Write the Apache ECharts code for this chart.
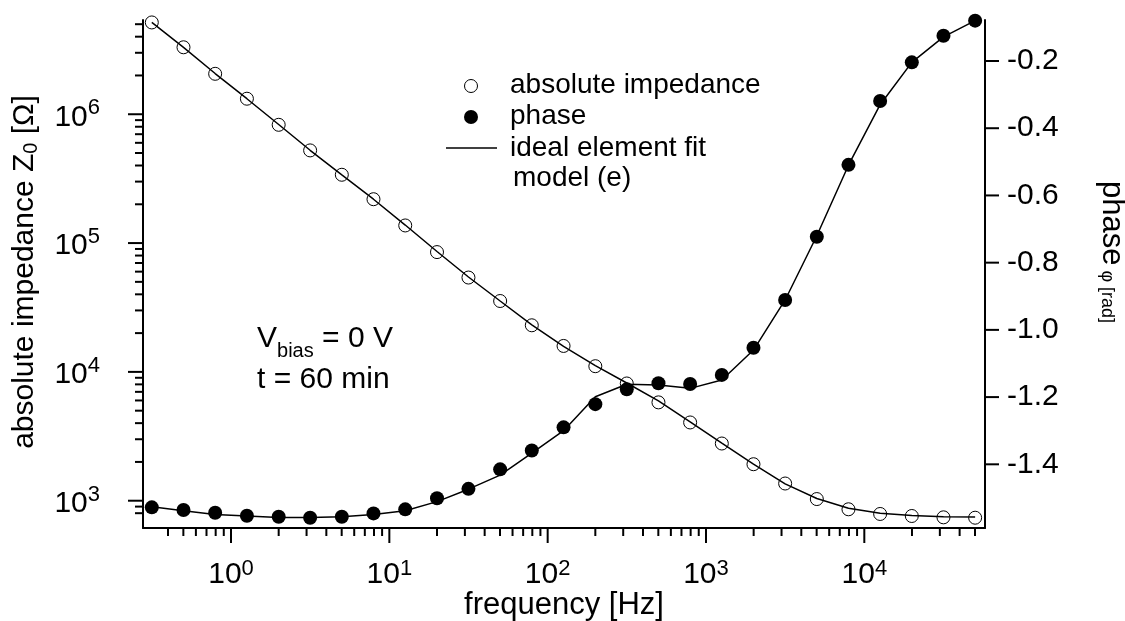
<!DOCTYPE html>
<html>
<head>
<meta charset="utf-8">
<script src="https://cdn.jsdelivr.net/npm/echarts@6/dist/echarts.min.js"></script>
<style>
  html, body { margin: 0; padding: 0; background: #fff; }
  #chart { width: 1125px; height: 621px; }
</style>
</head>
<body>
<div id="chart"></div>
<script>
// Impedance spectrum: measured |Z| and phase, with the ideal element fit
const frequency = [0.316, 0.501, 0.794, 1.26, 2.00, 3.16, 5.01, 7.94, 12.6, 20.0, 31.6, 50.1, 79.4,
  126, 200, 316, 501, 794, 1259, 1995, 3162, 5012, 7943, 12589, 19953, 31623, 50119];
const impedance = [5.16e6, 3.31e6, 2.06e6, 1.32e6, 8.28e5, 5.24e5, 3.39e5, 2.19e5, 1.37e5, 8.51e4,
  5.40e4, 3.55e4, 2.30e4, 1.59e4, 1.107e4, 8130, 5800, 4050, 2780, 1920, 1360, 1030, 858, 789, 761, 743, 738];
const impedanceFit = [5.16e6, 3.30e6, 2.07e6, 1.32e6, 8.32e5, 5.25e5, 3.38e5, 2.19e5, 1.38e5, 8.60e4,
  5.45e4, 3.55e4, 2.32e4, 1.58e4, 1.12e4, 8200, 5950, 4100, 2800, 1920, 1350, 1040, 875, 800, 768, 752, 746];
const phase = [-1.528, -1.536, -1.544, -1.553, -1.556, -1.559, -1.556, -1.546, -1.534, -1.501, -1.473,
  -1.415, -1.359, -1.290, -1.221, -1.177, -1.159, -1.161, -1.134, -1.053, -0.911, -0.723, -0.509,
  -0.319, -0.204, -0.125, -0.080];
const phaseFit = [-1.526, -1.538, -1.549, -1.554, -1.558, -1.558, -1.556, -1.549, -1.538, -1.511, -1.474,
  -1.432, -1.367, -1.300, -1.199, -1.162, -1.164, -1.174, -1.149, -1.060, -0.911, -0.720, -0.510,
  -0.330, -0.204, -0.128, -0.080];

// Axis ranges and tick positions
const freqRange = [0.278, 57850];
const impedanceRange = [614, 5.39e6];
const phaseRange = [-1.5895, -0.078];
const freqMajorTicks = [1, 10, 100, 1000, 10000];
const impedanceMajorTicks = [1e3, 1e4, 1e5, 1e6];
const phaseTicks = [-1.4, -1.2, -1.0, -0.8, -0.6, -0.4, -0.2];

function logMinorTicks(fromExp, toExp, lo, hi) {
  const out = [];
  for (let e = fromExp; e <= toExp; e++) {
    for (let m = 2; m <= 9; m++) {
      const v = m * Math.pow(10, e);
      if (v > lo && v < hi) out.push(v);
    }
  }
  return out;
}
const freqMinorTicks = logMinorTicks(-1, 4, 0.35, freqRange[1]);
const impedanceMinorTicks = logMinorTicks(2, 6, 750, impedanceRange[1]);

const FONT = '"Liberation Sans", Arial, Helvetica, sans-serif';
const MAJOR = 15, MINOR = 8;

function powerLabel(v) {
  const e = Math.log10(v);
  const r = Math.round(e);
  return Math.abs(e - r) < 1e-6 ? '{b|10}{s|' + r + '}' : '';
}
const powerRichX = {
  b: { fontSize: 30, lineHeight: 34, fontFamily: FONT, color: '#000' },
  s: { fontSize: 22, fontFamily: FONT, color: '#000', verticalAlign: 'top' }
};
const powerRichY = {
  b: { fontSize: 30, lineHeight: 34, fontFamily: FONT, color: '#000', padding: [6, 0, 0, 0] },
  s: { fontSize: 22, fontFamily: FONT, color: '#000', verticalAlign: 'top' }
};

// Tick marks drawn through the axis scales
function tickSeries(kind, values, lengths, yAxisIndex) {
  return {
    type: 'custom',
    xAxisIndex: 0,
    yAxisIndex: yAxisIndex,
    silent: true,
    clip: false,
    z: 5,
    data: values.map((v, i) => kind === 'x' ? [v, 1000, lengths[i]] : [1, v, lengths[i]]),
    renderItem(params, api) {
      const cs = params.coordSys;
      const p = api.coord([api.value(0), api.value(1)]);
      const len = api.value(2);
      let shape;
      if (kind === 'x') {
        const y0 = cs.y + cs.height;
        shape = { x1: p[0], y1: y0, x2: p[0], y2: y0 + len };
      } else if (kind === 'left') {
        shape = { x1: cs.x, y1: p[1], x2: cs.x - len, y2: p[1] };
      } else {
        const x0 = cs.x + cs.width;
        shape = { x1: x0, y1: p[1], x2: x0 + len, y2: p[1] };
      }
      return { type: 'line', shape: shape, style: { stroke: '#000', lineWidth: 2 } };
    }
  };
}

const xTickValues = freqMajorTicks.concat(freqMinorTicks);
const xTickLens = freqMajorTicks.map(() => MAJOR).concat(freqMinorTicks.map(() => MINOR));
const yTickValues = impedanceMajorTicks.concat(impedanceMinorTicks);
const yTickLens = impedanceMajorTicks.map(() => MAJOR).concat(impedanceMinorTicks.map(() => MINOR));

const axisLineStyle = { show: true, onZero: false, lineStyle: { color: '#000', width: 2 } };

const chart = echarts.init(document.getElementById('chart'), null, { renderer: 'canvas' });
chart.setOption({
  animation: false,
  backgroundColor: '#fff',
  grid: { left: 143, right: 140, top: 20, bottom: 93, containLabel: false, outerBoundsMode: 'none' },
  xAxis: {
    type: 'log', logBase: 10, min: freqRange[0], max: freqRange[1], splitNumber: 5,
    axisLine: axisLineStyle,
    axisTick: { show: false },
    splitLine: { show: false },
    axisLabel: { margin: 30, formatter: powerLabel, rich: powerRichX, showMinLabel: false, showMaxLabel: false },
    name: 'frequency [Hz]', nameLocation: 'middle', nameGap: 62, nameMoveOverlap: false,
    nameTextStyle: { fontSize: 31, fontFamily: FONT, color: '#000' }
  },
  yAxis: [
    {
      type: 'log', logBase: 10, min: impedanceRange[0], max: impedanceRange[1], splitNumber: 5,
      axisLine: axisLineStyle,
      axisTick: { show: false },
      splitLine: { show: false },
      axisLabel: { margin: 43, formatter: powerLabel, rich: powerRichY, showMinLabel: false, showMaxLabel: false }
    },
    {
      type: 'value', position: 'right', min: phaseRange[0], max: phaseRange[1], splitNumber: 7,
      axisLine: axisLineStyle,
      axisTick: { show: false },
      splitLine: { show: false },
      axisLabel: {
        margin: 22, fontSize: 30, fontFamily: FONT, color: '#000',
        showMinLabel: false, showMaxLabel: false,
        formatter: v => Math.abs(v * 5 - Math.round(v * 5)) < 1e-6 ? v.toFixed(1) : ''
      }
    }
  ],
  series: [
    {
      name: 'impedance fit', type: 'line', xAxisIndex: 0, yAxisIndex: 0,
      data: frequency.map((f, i) => [f, impedanceFit[i]]),
      showSymbol: false, symbol: 'none', silent: true, z: 2,
      lineStyle: { color: '#000', width: 1.5 }
    },
    {
      name: 'phase fit', type: 'line', xAxisIndex: 0, yAxisIndex: 1,
      data: frequency.map((f, i) => [f, phaseFit[i]]),
      showSymbol: false, symbol: 'none', silent: true, z: 2,
      lineStyle: { color: '#000', width: 1.5 }
    },
    {
      name: 'absolute impedance', type: 'scatter', xAxisIndex: 0, yAxisIndex: 0,
      data: frequency.map((f, i) => [f, impedance[i]]),
      symbol: 'circle', symbolSize: 13, z: 3,
      itemStyle: { color: 'rgba(0,0,0,0)', borderColor: '#000', borderWidth: 1, opacity: 1 }
    },
    {
      name: 'phase', type: 'scatter', xAxisIndex: 0, yAxisIndex: 1,
      data: frequency.map((f, i) => [f, phase[i]]),
      symbol: 'circle', symbolSize: 14, z: 3,
      itemStyle: { color: '#000', opacity: 1 }
    },
    tickSeries('x', xTickValues, xTickLens, 0),
    tickSeries('left', yTickValues, yTickLens, 0),
    tickSeries('right', phaseTicks, phaseTicks.map(() => 14), 1)
  ],
  graphic: [
    // axis titles
    {
      type: 'text', x: 25, y: 272, rotation: Math.PI / 2,
      style: {
        text: '{t|absolute impedance Z}{u|0}{t| [Ω]}',
        align: 'center', verticalAlign: 'middle',
        rich: {
          t: { fontSize: 30, fontFamily: FONT, fill: '#000' },
          u: { fontSize: 20, fontFamily: FONT, fill: '#000', padding: [12, 0, 0, 0] }
        }
      }
    },
    {
      type: 'text', x: 1112, y: 252, rotation: -Math.PI / 2,
      style: {
        text: '{t|phase}{u| φ [rad]}',
        align: 'center', verticalAlign: 'middle',
        rich: {
          t: { fontSize: 31, fontFamily: FONT, fill: '#000' },
          u: { fontSize: 18, fontFamily: FONT, fill: '#000', padding: [11, 0, 0, 0] }
        }
      }
    },
    // legend
    { type: 'circle', shape: { cx: 471, cy: 86, r: 6.5 }, style: { fill: 'none', stroke: '#000', lineWidth: 1 } },
    { type: 'circle', shape: { cx: 471, cy: 117, r: 7 }, style: { fill: '#000' } },
    { type: 'line', shape: { x1: 446, y1: 148, x2: 497, y2: 148 }, style: { stroke: '#000', lineWidth: 1.5 } },
    { type: 'text', x: 510, y: 85, style: { text: 'absolute impedance', font: '28px ' + FONT, fill: '#000', verticalAlign: 'middle' } },
    { type: 'text', x: 510, y: 116, style: { text: 'phase', font: '28px ' + FONT, fill: '#000', verticalAlign: 'middle' } },
    { type: 'text', x: 510, y: 148, style: { text: 'ideal element fit', font: '28px ' + FONT, fill: '#000', verticalAlign: 'middle' } },
    { type: 'text', x: 513, y: 178, style: { text: 'model (e)', font: '28px ' + FONT, fill: '#000', verticalAlign: 'middle' } },
    // bias annotation
    {
      type: 'text', x: 257, y: 339,
      style: {
        text: '{a|V}{b|bias}{a| = 0 V}', verticalAlign: 'middle',
        rich: {
          a: { fontSize: 30, fontFamily: FONT, fill: '#000' },
          b: { fontSize: 20, fontFamily: FONT, fill: '#000', padding: [25, 0, 0, 0] }
        }
      }
    },
    { type: 'text', x: 257, y: 380, style: { text: 't = 60 min', font: '30px ' + FONT, fill: '#000', verticalAlign: 'middle' } }
  ]
});
</script>
</body>
</html>
